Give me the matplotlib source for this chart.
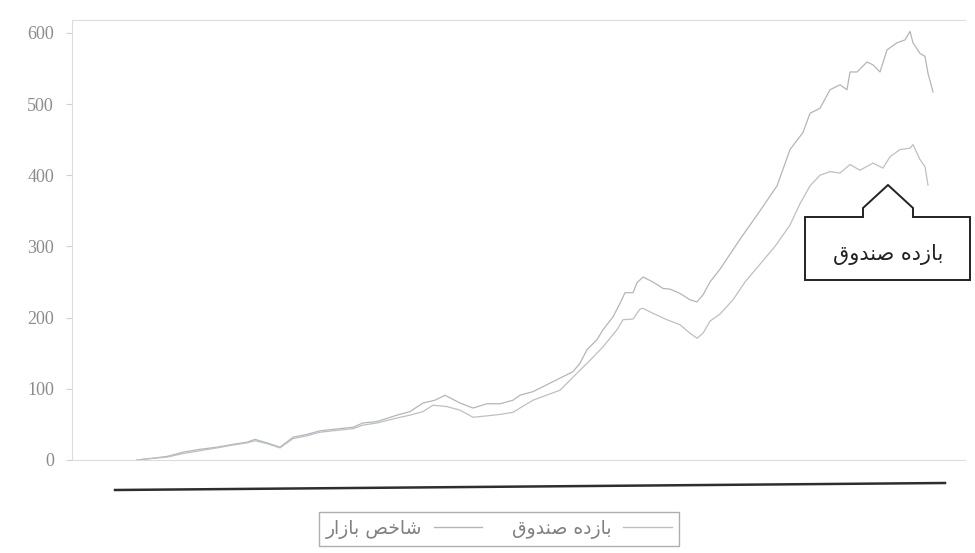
import matplotlib
matplotlib.use('Agg')
import matplotlib.pyplot as plt
from matplotlib.lines import Line2D
from matplotlib.patches import Polygon

# --- data (day index, value) ---
days_market = [0, 13, 30, 46, 63, 80, 96, 110, 118, 130, 143, 156, 170, 183, 196, 216, 226, 240,
               260, 273, 286, 298, 308, 323, 336, 350, 363, 376, 383, 396, 406, 423, 436, 443, 450,
               460, 466, 476, 483, 488, 496, 500, 506, 516, 526, 533, 543, 553, 560, 566, 573, 583,
               603, 623, 640, 653, 666, 673, 683, 693, 703, 710, 713, 720, 730, 736, 743, 750, 760,
               768, 773, 776, 783, 788, 791, 796]
market = [0, 2, 5, 11, 15, 18, 22, 25, 29, 24, 18, 32, 36, 41, 43, 46, 52, 54,
          63, 68, 80, 84, 91, 80, 73, 79, 79, 84, 91, 96, 103, 115, 124, 136, 155,
          169, 183, 201, 220, 235, 235, 249, 257, 250, 241, 240, 234, 225, 222, 232, 250, 268,
          310, 350, 385, 436, 460, 487, 494, 520, 527, 520, 545, 545, 559, 555, 545, 576, 586,
          590, 602, 586, 571, 567, 543, 517]

days_fund = [0, 13, 30, 46, 63, 80, 96, 110, 118, 130, 143, 156, 170, 183, 196, 216, 226, 240,
             260, 273, 286, 296, 310, 323, 336, 350, 363, 376, 383, 396, 423, 440, 453, 466, 480,
             486, 496, 503, 506, 516, 530, 543, 553, 560, 566, 573, 583, 596, 608, 623, 638, 653,
             663, 673, 683, 693, 703, 713, 723, 736, 746, 753, 763, 773, 776, 783, 788, 791]
fund = [0, 2, 4, 9, 13, 17, 21, 24, 27, 23, 17, 30, 34, 39, 41, 44, 49, 52,
        59, 63, 68, 77, 75, 70, 60, 62, 64, 67, 73, 84, 98, 122, 140, 159, 183,
        197, 198, 212, 213, 206, 197, 190, 178, 171, 178, 195, 205, 225, 250, 275, 300, 330,
        360, 385, 400, 405, 403, 415, 407, 417, 410, 426, 436, 438, 443, 422, 412, 386]

labels = ['\uFEAD\uFE8D\uFEAF\uFE8E\uFE91 \uFEBA\uFEA7\uFE8E\uFEB7',   # shakhes bazar
          '\uFED5\uFEED\uFEAA\uFEE8\uFEBB \uFEE9\uFEA9\uFEAF\uFE8E\uFE91']  # bazde sandoogh
yticks = [0, 100, 200, 300, 400, 500, 600]

W, H = 975, 553
fig = plt.figure(figsize=(W / 100, H / 100), dpi=100)
fig.patch.set_facecolor('white')

ax = fig.add_axes([72 / W, 1 - 460 / H, (965 - 72) / W, (460 - 20) / H])
ax.plot(days_market, market, color='#b2b6bb', lw=0.9)
ax.plot(days_fund, fund, color='#bcc0c4', lw=0.9)

ax.set_xlim(-65, 828)
ax.set_ylim(0, 618)
ax.set_yticks(yticks)
ax.set_yticklabels([str(v) for v in yticks], family='Liberation Serif', fontsize=13, color='#8c8c8c')
ax.set_xticks([])
ax.tick_params(axis='y', length=4, color='#d2d2d2', pad=9)
for s in ['left', 'top', 'bottom']:
    ax.spines[s].set_color('#dcdcdc')
ax.spines['right'].set_visible(False)

# stray black axis line under the plot
fig.add_artist(Line2D([115 / W, 945 / W], [1 - 490 / H, 1 - 483 / H],
                      color='#2e2e2e', lw=1.8, transform=fig.transFigure))

# legend
handles = [Line2D([], [], color='#b2b6bb', lw=1.0), Line2D([], [], color='#bcc0c4', lw=1.0)]
leg = fig.legend(handles, labels, loc='center', bbox_to_anchor=(499 / W, 1 - 529 / H),
                 ncol=2, markerfirst=False, fancybox=False, edgecolor='#9a9a9a',
                 handlelength=2.6, columnspacing=1.6, handletextpad=0.6, borderpad=0.35,
                 prop={'family': 'DejaVu Sans', 'size': 13.5})
for t in leg.get_texts():
    t.set_color('#808080')
leg.get_frame().set_linewidth(1.0)

# callout box
pts = [(805, 217), (863, 217), (863, 208), (888, 185), (913, 208), (913, 217),
       (970, 217), (970, 280), (805, 280)]
fig.add_artist(Polygon([(x / W, 1 - y / H) for x, y in pts], closed=True,
                       facecolor='white', edgecolor='#222', lw=1.4, transform=fig.transFigure))
fig.text(888 / W, 1 - 254 / H, labels[1], ha='center', va='center',
         family='DejaVu Sans', fontsize=15, color='#222')

fig.savefig('out.png', dpi=100)
